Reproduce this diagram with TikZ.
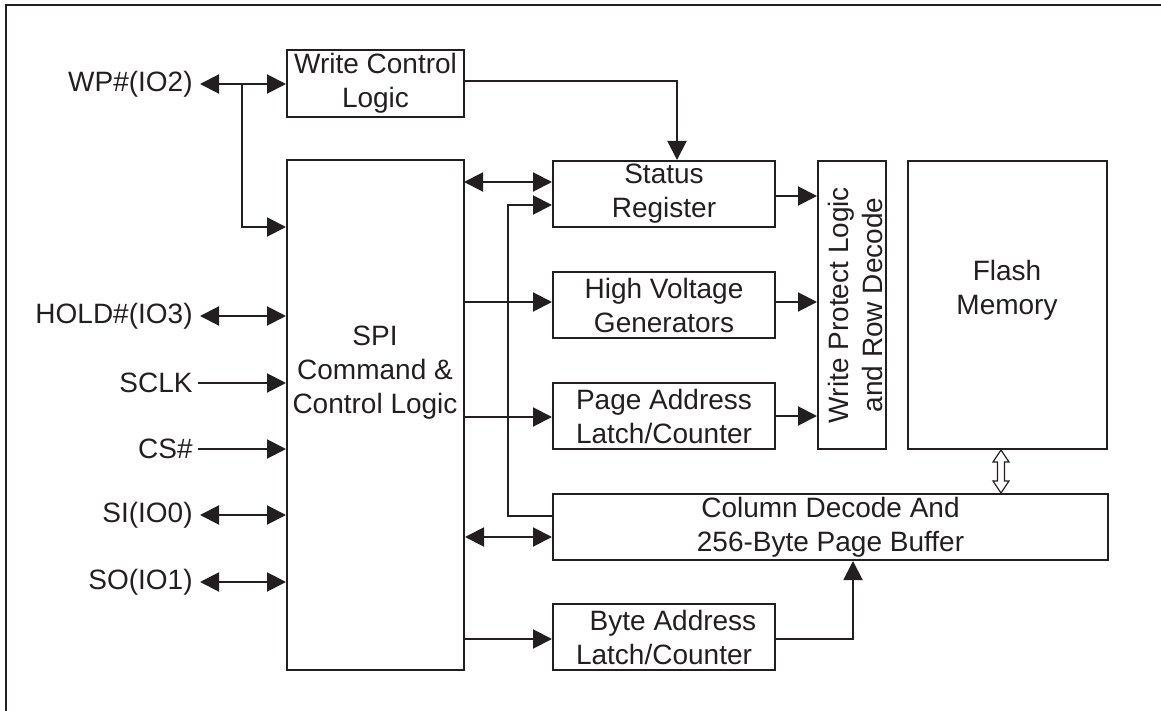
\documentclass[tikz,border=0pt]{standalone}
\usepackage{fontspec}
\setmainfont{Liberation Sans}
\usetikzlibrary{arrows.meta,calc}
\definecolor{ink}{RGB}{35,31,32}
\tikzset{
  box/.style={draw=ink, line width=1pt, inner sep=0pt, align=center, text=ink,
              font=\fontsize{14pt}{17pt}\selectfont},
  txt/.style={inner sep=0pt, align=center, text=ink, font=\fontsize{14pt}{17pt}\selectfont},
  sig/.style={anchor=east, inner xsep=3.5pt, inner ysep=0pt, text=ink, font=\fontsize{14pt}{17pt}\selectfont},
  conn/.style={draw=ink, line width=1pt},
  arr/.style={conn, -{Triangle[length=9.5pt,width=9.5pt]}},
  biarr/.style={conn, {Triangle[length=9.5pt,width=9.5pt]}-{Triangle[length=9.5pt,width=9.5pt]}},
}
\begin{document}
\begin{tikzpicture}[x=0.5pt,y=-0.5pt]
\useasboundingbox (0,0) rectangle (1161,711);
% frame
\draw[ink, line width=1pt] (6,711) -- (6,5) -- (1161,5);

% boxes
\node[box, minimum width=88.5pt, minimum height=33.5pt] (wcl) at (375.5,83.5) {Write Control\\Logic};
\node[box, minimum width=88.5pt, minimum height=255pt] (spi) at (375.5,415) {};
\node[txt] (spitxt) at (375,373) {SPI\\Command \&\\Control Logic};
\node[box, minimum width=111pt, minimum height=33pt] (status) at (664,194) {Status\\Register};
\node[box, minimum width=111pt, minimum height=33pt] (hv) at (664,305) {High Voltage\\Generators};
\node[box, minimum width=111pt, minimum height=33pt] (page) at (664,416) {Page Address\\Latch/Counter};
\node[box, minimum width=111pt, minimum height=33pt] (byte) at (664,637) {\hspace*{9pt}Byte Address\\Latch/Counter};
\node[box, minimum width=277.5pt, minimum height=33pt] (col) at (830.5,527) {Column Decode And\\256-Byte Page Buffer};
\node[box, minimum width=34pt, minimum height=144pt] (wp) at (852,305) {};
\node[txt, rotate=90] (wptxt) at (855,305) {Write Protect Logic\\and Row Decode};
\node[box, minimum width=99.5pt, minimum height=144pt] (flash) at (1007.5,305) {};
\node[txt] (flashtxt) at (1007,290) {Flash\\Memory};

% signal labels
\node[sig] (lwp) at (200,84) {WP\#(IO2)};
\node[sig] (lhold) at (200,316) {HOLD\#(IO3)};
\node[sig, inner xsep=2.5pt] (lsclk) at (198,383) {SCLK};
\node[sig, inner xsep=2.5pt] (lcs) at (198,449) {CS\#};
\node[sig] (lsi) at (200,515) {SI(IO0)};
\node[sig] (lso) at (200,582) {SO(IO1)};

% left connectors
\draw[biarr] (lwp.east) -- (lwp.east -| wcl.west);
\coordinate (j1) at (242,84);
\coordinate (j2) at (242,227);
\draw[arr] (j1) -- (j2) -- (j2 -| spi.west);
\draw[biarr] (lhold.east) -- (lhold.east -| spi.west);
\draw[arr] (lsclk.east) -- (lsclk.east -| spi.west);
\draw[arr] (lcs.east) -- (lcs.east -| spi.west);
\draw[biarr] (lsi.east) -- (lsi.east -| spi.west);
\draw[biarr] (lso.east) -- (lso.east -| spi.west);

% write control -> status
\coordinate (w1) at (464,81);
\coordinate (w2) at (677,81);
\draw[arr] (w1) -- (w2) -- (w2 |- status.north);

% SPI to middle column
\coordinate (s1) at (464,182);
\draw[biarr] (s1) -- (s1 -| status.west);
\draw[arr] (spi.east |- 0,302) -- (hv.west |- 0,302);
\draw[arr] (spi.east |- 0,417) -- (page.west |- 0,417);
\draw[biarr] (spi.east |- 0,537) -- (col.west |- 0,537);
\draw[arr] (spi.east |- 0,639) -- (byte.west |- 0,639);

% column decode feedback into status
\coordinate (f1) at (508,516);
\coordinate (f2) at (508,205);
\draw[arr] (col.west |- f1) -- (f1) -- (f2) -- (f2 -| status.west);

% middle column -> write protect
\draw[arr] (status.east |- 0,196) -- (wp.west |- 0,196);
\draw[arr] (hv.east |- 0,302) -- (wp.west |- 0,302);
\draw[arr] (page.east |- 0,416) -- (wp.west |- 0,416);

% byte -> column
\coordinate (b1) at (853,639);
\draw[arr] (byte.east |- b1) -- (b1) -- (b1 |- col.south);

% hollow double arrow flash <-> column
\draw[ink, line width=0.6pt, fill=white]
  (1001,450) -- (1009,462) -- (1004.5,462) -- (1004.5,481) -- (1009,481) -- (1001,493)
  -- (993,481) -- (997.5,481) -- (997.5,462) -- (993,462) -- cycle;
\end{tikzpicture}
\end{document}
